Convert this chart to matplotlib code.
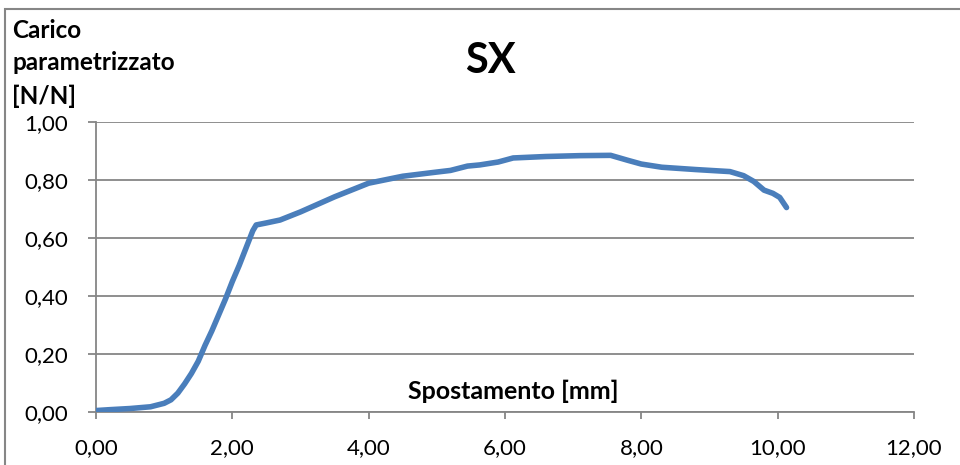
import matplotlib
matplotlib.use("Agg")
import matplotlib.pyplot as plt
from matplotlib.patches import Rectangle

plt.rcParams['font.family'] = ['Lato', 'DejaVu Sans']

title = "SX"
xlabel = "Spostamento [mm]"
ylabel = "Carico\nparametrizzato\n[N/N]"

spostamento = [0.00, 0.20, 0.50, 0.80, 1.00, 1.10, 1.20, 1.30, 1.40, 1.50,
               1.60, 1.70, 1.80, 1.90, 2.00, 2.10, 2.20, 2.30, 2.35, 2.50,
               2.70, 3.00, 3.50, 4.00, 4.50, 4.95, 5.20, 5.45, 5.63, 5.90,
               6.12, 6.60, 7.10, 7.55, 7.80, 8.00, 8.30, 8.80, 9.30, 9.50,
               9.65, 9.80, 9.93, 10.03, 10.13]
carico = [0.005, 0.008, 0.012, 0.018, 0.030, 0.042, 0.065, 0.097, 0.133, 0.175,
          0.230, 0.280, 0.335, 0.390, 0.450, 0.505, 0.565, 0.625, 0.645, 0.652,
          0.662, 0.690, 0.742, 0.789, 0.813, 0.826, 0.833, 0.848, 0.852, 0.862,
          0.876, 0.881, 0.884, 0.885, 0.868, 0.855, 0.844, 0.836, 0.829, 0.815,
          0.795, 0.765, 0.754, 0.740, 0.705]

xticks = [0, 2, 4, 6, 8, 10, 12]
yticks = [0.0, 0.2, 0.4, 0.6, 0.8, 1.0]

W, H = 960, 465
fig = plt.figure(figsize=(W/100, H/100), dpi=100)

# outer chart border
fig.patches.append(Rectangle((5/W, -0.1), 1.2, (H-9)/H + 0.1, transform=fig.transFigure,
                             fill=False, edgecolor='#868686', linewidth=1.5))

ax = fig.add_axes([96/W, (H-412)/H, (914-96)/W, (412-122)/H])
ax.plot(spostamento, carico, color='#4A7EBB', linewidth=4.0, solid_capstyle='round',
        solid_joinstyle='round', zorder=3)

ax.set_xlim(0, 12)
ax.set_ylim(0, 1.0)
ax.set_xticks(xticks)
ax.set_yticks(yticks)
ax.set_xticklabels([f"{v:.2f}".replace('.', ',') for v in xticks])
ax.set_yticklabels([f"{v:.2f}".replace('.', ',') for v in yticks])

grid_c = '#868686'
ax.yaxis.grid(True, color=grid_c, linewidth=1.3)
ax.set_axisbelow(True)
for s in ['top', 'right']:
    ax.spines[s].set_visible(False)
for s in ['left', 'bottom']:
    ax.spines[s].set_color(grid_c)
    ax.spines[s].set_linewidth(1.3)

ax.tick_params(axis='x', direction='out', length=5, width=1.3, color=grid_c,
               labelsize=16, pad=14)
ax.tick_params(axis='y', direction='out', length=6, width=1.3, color=grid_c,
               labelsize=16, pad=14)

fig.text(490/W, 1 - 61/H, title, ha='center', va='center', fontsize=30, fontweight='bold')
fig.text(513/W, 1 - 391/H, xlabel, ha='center', va='center', fontsize=18, fontweight='bold')
fig.text(12/W, 1 - 19/H, ylabel, ha='left', va='top', fontsize=17.5, fontweight='bold',
         linespacing=1.5)

fig.savefig("out.png", dpi=100)
